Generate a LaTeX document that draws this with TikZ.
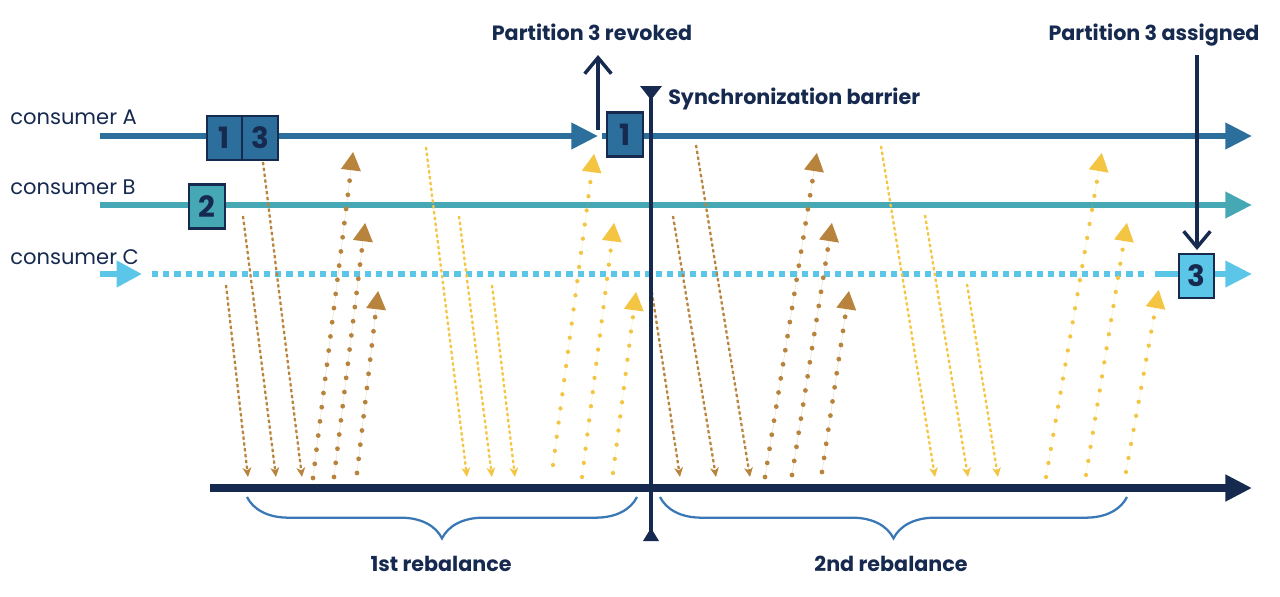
\documentclass[tikz,border=0pt]{standalone}
\usepackage{fontspec}
\setmainfont{Poppins}
\usetikzlibrary{arrows.meta,decorations.pathreplacing}
\definecolor{navy}{HTML}{16294F}
\definecolor{colA}{HTML}{2D6F9C}
\definecolor{colB}{HTML}{47A8B5}
\definecolor{colC}{HTML}{5CC6E8}
\definecolor{brn}{HTML}{B8843D}
\definecolor{ylw}{HTML}{F4C542}
\definecolor{brc}{HTML}{3A78B5}
\tikzset{
  bigtip/.style={-{Triangle[length=20pt,width=19pt]}},
  lineA/.style={draw=colA, line width=4.5pt},
  lineB/.style={draw=colB, line width=4.5pt},
  lineC/.style={draw=colC, line width=4.5pt},
  pbox/.style={draw=navy, line width=1.6pt, minimum width=26.5pt, minimum height=33pt, inner sep=0pt, text=navy, font=\bfseries\fontsize{22}{22}\selectfont},
  clabel/.style={anchor=base west, text=navy, inner sep=0pt, font=\fontsize{15.8}{15.8}\selectfont},
  blabel/.style={anchor=base, text=navy, inner sep=0pt, font=\bfseries\fontsize{15.5}{15.5}\selectfont},
  dashdown/.style={line width=1.7pt, dash pattern=on 2.4pt off 2pt, -{Stealth[length=7pt,width=6.5pt,inset=2pt]}},
  dotup/.style={line width=3.6pt, line cap=round, dash pattern=on 0pt off 10.7pt, -{Triangle[length=14pt,width=14pt,sep=5pt]}},
  bd/.style={dashdown, draw=brn, fill=brn},
  yd/.style={dashdown, draw=ylw, fill=ylw},
  bu/.style={dotup, draw=brn, fill=brn},
  yu/.style={dotup, draw=ylw, fill=ylw, line width=3.2pt},
  bracestyle/.style={draw=brc, line width=1.7pt, decorate, decoration={brace, mirror, amplitude=31pt}},
  hand/.style={draw=navy, line width=2.6pt}
}
\begin{document}
\begin{tikzpicture}[x=0.75pt,y=-0.75pt]
\useasboundingbox (0,0) rectangle (1280,596);

% labels
\node[clabel] (lA) at (10,124) {consumer A};
\node[clabel] (lB) at (10,194) {consumer B};
\node[clabel] (lC) at (10,264) {consumer C};

% consumer A
\coordinate (a0) at (100,136);
\coordinate (a1) at (598,136);
\coordinate (a2) at (602,136);
\coordinate (aE) at (1252,136);
\draw[lineA, bigtip] (a0) -- (a1);
\draw[lineA, bigtip] (a2) -- (aE);

% consumer B
\coordinate (b0) at (100,205);
\coordinate (bE) at (1252,205);
\draw[lineB, bigtip] (b0) -- (bE);

% consumer C
\coordinate (c0) at (100,274);
\coordinate (c1) at (142,274);
\coordinate (c2) at (152,274);
\coordinate (c3) at (1147,274);
\coordinate (c4) at (1155,274);
\coordinate (cE) at (1252,274);
\draw[lineC, -{Triangle[length=19pt,width=19pt]}] (c0) -- (c1);
\draw[draw=colC, line width=4.5pt, dash pattern=on 4.6pt off 3.8pt] (c2) -- (c3);

% timeline
\coordinate (t0) at (210,488);
\coordinate (tE) at (1252,488);
\draw[draw=navy, line width=5.5pt, bigtip] (t0) -- (tE);

% group 1 brown down
\coordinate (g1d1s) at (226,285); \coordinate (g1d1e) at (248,477);
\coordinate (g1d2s) at (243,216); \coordinate (g1d2e) at (276,477);
\coordinate (g1d3s) at (263,162); \coordinate (g1d3e) at (302,477);
\draw[bd] (g1d1s) -- (g1d1e);
\draw[bd] (g1d2s) -- (g1d2e);
\draw[bd] (g1d3s) -- (g1d3e);
% group 1 brown up
\coordinate (g1u1s) at (313,478); \coordinate (g1u1e) at (354,145);
\coordinate (g1u2s) at (334,477); \coordinate (g1u2e) at (366,216);
\coordinate (g1u3s) at (357,473); \coordinate (g1u3e) at (379,284);
\draw[bu] (g1u1s) -- (g1u1e);
\draw[bu] (g1u2s) -- (g1u2e);
\draw[bu] (g1u3s) -- (g1u3e);
% group 1 yellow down
\coordinate (g1y1s) at (426,147); \coordinate (g1y1e) at (467,477);
\coordinate (g1y2s) at (459,216); \coordinate (g1y2e) at (492,477);
\coordinate (g1y3s) at (492,285); \coordinate (g1y3e) at (515,477);
\draw[yd] (g1y1s) -- (g1y1e);
\draw[yd] (g1y2s) -- (g1y2e);
\draw[yd] (g1y3s) -- (g1y3e);
% group 1 yellow up
\coordinate (g1v1s) at (553,465); \coordinate (g1v1e) at (595,147);
\coordinate (g1v2s) at (582,477); \coordinate (g1v2e) at (615,216);
\coordinate (g1v3s) at (613,473); \coordinate (g1v3e) at (637,285);
\draw[yu] (g1v1s) -- (g1v1e);
\draw[yu] (g1v2s) -- (g1v2e);
\draw[yu] (g1v3s) -- (g1v3e);

% group 2 brown down
\coordinate (g2d1s) at (651,286); \coordinate (g2d1e) at (680,477);
\coordinate (g2d2s) at (673,216); \coordinate (g2d2e) at (716,477);
\coordinate (g2d3s) at (696,145); \coordinate (g2d3e) at (750,477);
\draw[bd] (g2d1s) -- (g2d1e);
\draw[bd] (g2d2s) -- (g2d2e);
\draw[bd] (g2d3s) -- (g2d3e);
% group 2 brown up
\coordinate (g2u1s) at (765,477); \coordinate (g2u1e) at (818,146);
\coordinate (g2u2s) at (792,475); \coordinate (g2u2e) at (833,216);
\coordinate (g2u3s) at (822,472); \coordinate (g2u3e) at (850,284);
\draw[bu] (g2u1s) -- (g2u1e);
\draw[bu] (g2u2s) -- (g2u2e);
\draw[bu] (g2u3s) -- (g2u3e);
% group 2 yellow down
\coordinate (g2y1s) at (881,146); \coordinate (g2y1e) at (935,477);
\coordinate (g2y2s) at (925,215); \coordinate (g2y2e) at (968,477);
\coordinate (g2y3s) at (967,284); \coordinate (g2y3e) at (998,477);
\draw[yd] (g2y1s) -- (g2y1e);
\draw[yd] (g2y2s) -- (g2y2e);
\draw[yd] (g2y3s) -- (g2y3e);
% group 2 yellow up
\coordinate (g2v1s) at (1046,477); \coordinate (g2v1e) at (1103,146);
\coordinate (g2v2s) at (1086,475); \coordinate (g2v2e) at (1128,216);
\coordinate (g2v3s) at (1126,472); \coordinate (g2v3e) at (1160,283);
\draw[yu] (g2v1s) -- (g2v1e);
\draw[yu] (g2v2s) -- (g2v2e);
\draw[yu] (g2v3s) -- (g2v3e);

% partition boxes
\node[pbox, fill=colA] (p1) at (224.5,138) {1};
\node[pbox, fill=colA] (p3) at (260,138) {3};
\node[pbox, fill=colB] (p2) at (207,206.5) {2};
\node[pbox, fill=colA] (p1n) at (625,134.5) {1};
\node[pbox, fill=colC] (p3n) at (1196.5,276) {3};
\draw[lineC] (c4) -- (c4 -| p3n.west);
\draw[lineC, bigtip] (p3n.east |- cE) -- (cE);

% synchronization barrier
\coordinate (sbT) at (651,90);
\coordinate (sbB) at (651,536);
\draw[hand, line width=2.8pt] (sbT) -- (sbB);
\fill[navy] (640,86) -- (662,86) -- (651,100) -- cycle;
\fill[navy] (643,541) -- (659,541) -- (651,528) -- cycle;
\node[blabel, anchor=base west] (sync) at (668,104) {Synchronization barrier};

% revoked / assigned
\coordinate (rv0) at (598,130);
\coordinate (rv1) at (598,55);
\draw[hand, -{Straight Barb[length=12pt,width=20pt]}] (rv0) -- (rv1);
\node[blabel] (trev) at (592,40) {Partition 3 revoked};
\coordinate (as0) at (1197,55);
\coordinate (as1) at (1197,250);
\draw[hand, -{Straight Barb[length=12pt,width=20pt]}] (as0) -- (as1);
\node[blabel] (tass) at (1154,40) {Partition 3 assigned};

% braces
\coordinate (br1a) at (247,497);
\coordinate (br1b) at (637,497);
\coordinate (br2a) at (660,497);
\coordinate (br2b) at (1127,497);
\draw[bracestyle] (br1a) -- (br1b);
\draw[bracestyle] (br2a) -- (br2b);
\node[blabel] (r1) at (441,571) {1st rebalance};
\node[blabel] (r2) at (891,571) {2nd rebalance};
\end{tikzpicture}
\end{document}
